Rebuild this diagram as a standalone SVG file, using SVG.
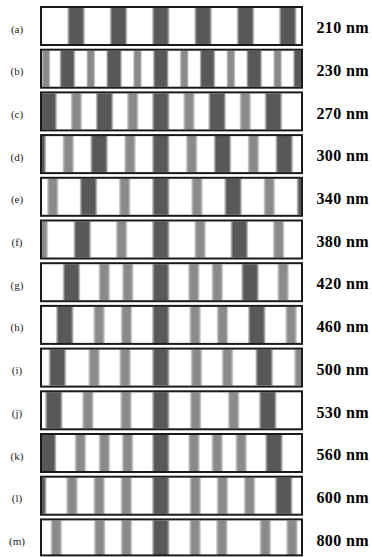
<svg xmlns="http://www.w3.org/2000/svg" width="372" height="557" viewBox="0 0 372 557">
<defs>
<linearGradient id="gd" x1="0" y1="0" x2="1" y2="0">
<stop offset="0" stop-color="#e8e8e8"/><stop offset="0.08" stop-color="#9a9a9a"/><stop offset="0.16" stop-color="#585858"/><stop offset="0.84" stop-color="#585858"/><stop offset="0.92" stop-color="#9a9a9a"/><stop offset="1" stop-color="#e8e8e8"/>
</linearGradient>
<linearGradient id="gm" x1="0" y1="0" x2="1" y2="0">
<stop offset="0" stop-color="#f0f0f0"/><stop offset="0.12" stop-color="#b0b0b0"/><stop offset="0.25" stop-color="#8a8a8a"/><stop offset="0.75" stop-color="#8a8a8a"/><stop offset="0.88" stop-color="#b0b0b0"/><stop offset="1" stop-color="#f0f0f0"/>
</linearGradient>
<clipPath id="cp"><rect x="42" y="2" width="260" height="36"/></clipPath>
</defs>
<style>
.box{fill:none;stroke:#1a1a1a;stroke-width:2}
.d{fill:url(#gd)}
.m{fill:url(#gm)}
.lab{font-family:"Liberation Serif",serif;font-size:11px;fill:#222;text-anchor:middle}
.wl{font-family:"Liberation Serif",serif;font-size:16px;font-weight:bold;fill:#000}
</style>
<rect width="372" height="557" fill="#fff"/>

<g id="row-a" transform="translate(0,6)">
<g clip-path="url(#cp)">
<rect class="d" x="67.1" y="1" width="18" height="38"/><rect class="d" x="109.5" y="1" width="18" height="38"/><rect class="d" x="151.8" y="1" width="18" height="38"/><rect class="d" x="194.1" y="1" width="18" height="38"/><rect class="d" x="236.5" y="1" width="18" height="38"/><rect class="d" x="278.8" y="1" width="18" height="38"/>
</g>
<rect class="box" x="41" y="1" width="261" height="38"/>
<text class="lab" x="17" y="26.5">(a)</text>
<text class="wl" x="316.5" y="27.3" textLength="52">210 nm</text>
</g>

<g id="row-b" transform="translate(0,48.7)">
<g clip-path="url(#cp)">
<rect class="d" x="59.4" y="1" width="16" height="38"/><rect class="d" x="106.1" y="1" width="16" height="38"/><rect class="d" x="152.8" y="1" width="16" height="38"/><rect class="d" x="199.5" y="1" width="16" height="38"/><rect class="d" x="246.2" y="1" width="16" height="38"/><rect class="d" x="292.9" y="1" width="16" height="38"/>
<rect class="m" x="41.5" y="1" width="9" height="38"/><rect class="m" x="86.3" y="1" width="9" height="38"/><rect class="m" x="133" y="1" width="9" height="38"/><rect class="m" x="179.7" y="1" width="9" height="38"/><rect class="m" x="226.4" y="1" width="9" height="38"/><rect class="m" x="273.1" y="1" width="9" height="38"/>
</g>
<rect class="box" x="41" y="1" width="261" height="38"/>
<text class="lab" x="17" y="26.5">(b)</text>
<text class="wl" x="316.5" y="27.3" textLength="52">230 nm</text>
</g>

<g id="row-c" transform="translate(0,91.4)">
<g clip-path="url(#cp)">
<rect class="d" x="39.2" y="1" width="18" height="38"/><rect class="d" x="95.5" y="1" width="18" height="38"/><rect class="d" x="151.8" y="1" width="18" height="38"/><rect class="d" x="208.1" y="1" width="18" height="38"/><rect class="d" x="264.4" y="1" width="18" height="38"/>
<rect class="m" x="70.4" y="1" width="12" height="38"/><rect class="m" x="126.7" y="1" width="12" height="38"/><rect class="m" x="183" y="1" width="12" height="38"/><rect class="m" x="239.3" y="1" width="12" height="38"/>
</g>
<rect class="box" x="41" y="1" width="261" height="38"/>
<text class="lab" x="17" y="26.5">(c)</text>
<text class="wl" x="316.5" y="27.3" textLength="52">270 nm</text>
</g>

<g id="row-d" transform="translate(0,134.1)">
<g clip-path="url(#cp)">
<rect class="d" x="28.4" y="1" width="18" height="38"/><rect class="d" x="90.1" y="1" width="18" height="38"/><rect class="d" x="151.8" y="1" width="18" height="38"/><rect class="d" x="213.5" y="1" width="18" height="38"/><rect class="d" x="275.2" y="1" width="18" height="38"/>
<rect class="m" x="62.3" y="1" width="12" height="38"/><rect class="m" x="124" y="1" width="12" height="38"/><rect class="m" x="185.7" y="1" width="12" height="38"/><rect class="m" x="247.4" y="1" width="12" height="38"/>
</g>
<rect class="box" x="41" y="1" width="261" height="38"/>
<text class="lab" x="17" y="26.5">(d)</text>
<text class="wl" x="316.5" y="27.3" textLength="52">300 nm</text>
</g>

<g id="row-e" transform="translate(0,176.8)">
<g clip-path="url(#cp)">
<rect class="d" x="79.5" y="1" width="18" height="38"/><rect class="d" x="151.8" y="1" width="18" height="38"/><rect class="d" x="224.1" y="1" width="18" height="38"/><rect class="d" x="296.4" y="1" width="18" height="38"/>
<rect class="m" x="46.7" y="1" width="12" height="38"/><rect class="m" x="118.7" y="1" width="12" height="38"/><rect class="m" x="191" y="1" width="12" height="38"/><rect class="m" x="263.3" y="1" width="12" height="38"/>
</g>
<rect class="box" x="41" y="1" width="261" height="38"/>
<text class="lab" x="17" y="26.5">(e)</text>
<text class="wl" x="316.5" y="27.3" textLength="52">340 nm</text>
</g>

<g id="row-f" transform="translate(0,219.5)">
<g clip-path="url(#cp)">
<rect class="d" x="73.3" y="1" width="18" height="38"/><rect class="d" x="151.8" y="1" width="18" height="38"/><rect class="d" x="230.3" y="1" width="18" height="38"/>
<rect class="m" x="36.3" y="1" width="12" height="38"/><rect class="m" x="115.6" y="1" width="12" height="38"/><rect class="m" x="194.1" y="1" width="12" height="38"/><rect class="m" x="272.6" y="1" width="12" height="38"/>
</g>
<rect class="box" x="41" y="1" width="261" height="38"/>
<text class="lab" x="17" y="26.5">(f)</text>
<text class="wl" x="316.5" y="27.3" textLength="52">380 nm</text>
</g>

<g id="row-g" transform="translate(0,262.2)">
<g clip-path="url(#cp)">
<rect class="d" x="62.5" y="1" width="18" height="38"/><rect class="d" x="151.8" y="1" width="18" height="38"/><rect class="d" x="241.1" y="1" width="18" height="38"/>
<rect class="m" x="98.3" y="1" width="12" height="38"/><rect class="m" x="121.8" y="1" width="12" height="38"/><rect class="m" x="187.8" y="1" width="12" height="38"/><rect class="m" x="211.3" y="1" width="12" height="38"/><rect class="m" x="277.1" y="1" width="12" height="38"/>
</g>
<rect class="box" x="41" y="1" width="261" height="38"/>
<text class="lab" x="17" y="26.5">(g)</text>
<text class="wl" x="316.5" y="27.3" textLength="52">420 nm</text>
</g>

<g id="row-h" transform="translate(0,304.9)">
<g clip-path="url(#cp)">
<rect class="d" x="55.8" y="1" width="18" height="38"/><rect class="d" x="151.8" y="1" width="18" height="38"/><rect class="d" x="247.8" y="1" width="18" height="38"/>
<rect class="m" x="93.1" y="1" width="12" height="38"/><rect class="m" x="120.5" y="1" width="12" height="38"/><rect class="m" x="189.1" y="1" width="12" height="38"/><rect class="m" x="216.5" y="1" width="12" height="38"/><rect class="m" x="285.1" y="1" width="12" height="38"/>
</g>
<rect class="box" x="41" y="1" width="261" height="38"/>
<text class="lab" x="17" y="26.5">(h)</text>
<text class="wl" x="316.5" y="27.3" textLength="52">460 nm</text>
</g>

<g id="row-i" transform="translate(0,347.6)">
<g clip-path="url(#cp)">
<rect class="d" x="48.4" y="1" width="18" height="38"/><rect class="d" x="151.8" y="1" width="18" height="38"/><rect class="d" x="255.2" y="1" width="18" height="38"/>
<rect class="m" x="88.1" y="1" width="12" height="38"/><rect class="m" x="119.1" y="1" width="12" height="38"/><rect class="m" x="190.5" y="1" width="12" height="38"/><rect class="m" x="221.5" y="1" width="12" height="38"/><rect class="m" x="293.9" y="1" width="12" height="38"/>
</g>
<rect class="box" x="41" y="1" width="261" height="38"/>
<text class="lab" x="17" y="26.5">(i)</text>
<text class="wl" x="316.5" y="27.3" textLength="52">500 nm</text>
</g>

<g id="row-j" transform="translate(0,390.3)">
<g clip-path="url(#cp)">
<rect class="d" x="44.8" y="1" width="18" height="38"/><rect class="d" x="151.8" y="1" width="18" height="38"/><rect class="d" x="258.8" y="1" width="18" height="38"/>
<rect class="m" x="81.9" y="1" width="12" height="38"/><rect class="m" x="120" y="1" width="12" height="38"/><rect class="m" x="189.6" y="1" width="12" height="38"/><rect class="m" x="227.7" y="1" width="12" height="38"/>
</g>
<rect class="box" x="41" y="1" width="261" height="38"/>
<text class="lab" x="17" y="26.5">(j)</text>
<text class="wl" x="316.5" y="27.3" textLength="52">530 nm</text>
</g>

<g id="row-k" transform="translate(0,433)">
<g clip-path="url(#cp)">
<rect class="d" x="38.6" y="1" width="18" height="38"/><rect class="d" x="151.8" y="1" width="18" height="38"/><rect class="d" x="265" y="1" width="18" height="38"/>
<rect class="m" x="74.4" y="1" width="12" height="38"/><rect class="m" x="98.4" y="1" width="12" height="38"/><rect class="m" x="121.6" y="1" width="12" height="38"/><rect class="m" x="188" y="1" width="12" height="38"/><rect class="m" x="211.2" y="1" width="12" height="38"/><rect class="m" x="235.2" y="1" width="12" height="38"/>
</g>
<rect class="box" x="41" y="1" width="261" height="38"/>
<text class="lab" x="17" y="26.5">(k)</text>
<text class="wl" x="316.5" y="27.3" textLength="52">560 nm</text>
</g>

<g id="row-l" transform="translate(0,475.7)">
<g clip-path="url(#cp)">
<rect class="d" x="28.8" y="1" width="18" height="38"/><rect class="d" x="151.8" y="1" width="18" height="38"/><rect class="d" x="274.8" y="1" width="18" height="38"/>
<rect class="m" x="66" y="1" width="12" height="38"/><rect class="m" x="93.2" y="1" width="12" height="38"/><rect class="m" x="120.3" y="1" width="12" height="38"/><rect class="m" x="189.3" y="1" width="12" height="38"/><rect class="m" x="216.4" y="1" width="12" height="38"/><rect class="m" x="243.6" y="1" width="12" height="38"/>
</g>
<rect class="box" x="41" y="1" width="261" height="38"/>
<text class="lab" x="17" y="26.5">(l)</text>
<text class="wl" x="316.5" y="27.3" textLength="52">600 nm</text>
</g>

<g id="row-m" transform="translate(0,518.4)">
<g clip-path="url(#cp)">
<rect class="d" x="151.8" y="1" width="18" height="36"/>
<rect class="m" x="50.3" y="1" width="12" height="36"/><rect class="m" x="93.7" y="1" width="12" height="36"/><rect class="m" x="120.5" y="1" width="12" height="36"/><rect class="m" x="189.1" y="1" width="12" height="36"/><rect class="m" x="215.9" y="1" width="12" height="36"/><rect class="m" x="259.3" y="1" width="12" height="36"/><rect class="m" x="286" y="1" width="12" height="36"/>
</g>
<rect class="box" x="41" y="1" width="261" height="36"/>
<text class="lab" x="17" y="26.5">(m)</text>
<text class="wl" x="316.5" y="27.3" textLength="52">800 nm</text>
</g>
</svg>
